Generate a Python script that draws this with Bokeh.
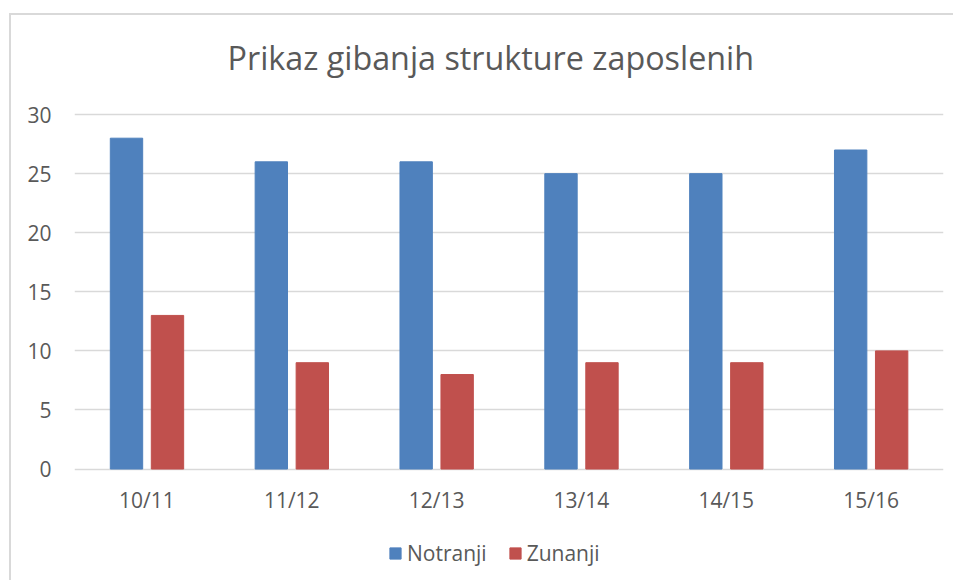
from bokeh.plotting import figure
from bokeh.models import FactorRange, FixedTicker, Legend, LegendItem, ColumnDataSource
from bokeh.core.properties import value
from bokeh.transform import dodge
from bokeh.embed import file_html
from bokeh.resources import INLINE

categories = ["10/11", "11/12", "12/13", "13/14", "14/15", "15/16"]
notranji = [28, 26, 26, 25, 25, 27]
zunanji = [13, 9, 8, 9, 9, 10]
y_ticks = [0, 5, 10, 15, 20, 25, 30]
title_text = "Prikaz gibanja strukture zaposlenih"

FONT = "Open Sans"
TXT = "#595959"
GRID = "#D9D9D9"

src = ColumnDataSource(dict(cat=categories, n=notranji, z=zunanji,
                            base=[0] * len(categories)))

# Frame runs from 15px above the 30 gridline down to the legend row; 0..30 spans 353px.
PX_PER_UNIT = 353 / 30
PAD_TOP_PX = 15
PAD_BOTTOM_PX = 108
y_max = 30 + PAD_TOP_PX / PX_PER_UNIT
y_min = 0 - PAD_BOTTOM_PX / PX_PER_UNIT

p = figure(
    x_range=FactorRange(*categories, range_padding=0),
    y_range=(y_min, y_max),
    width=942, height=565,
    output_backend="svg", toolbar_location=None,
    min_border_left=63, min_border_right=12,
    min_border_top=84, min_border_bottom=5,
)
p.margin = (13, 0, 0, 9)
p.styles = {"border-top": "2px solid #D9D9D9", "border-left": "2px solid #D9D9D9",
            "box-sizing": "content-box"}

p.title.text = title_text
p.title.align = "left"
p.title.vertical_align = "top"
p.title.offset = 153
p.title.standoff = 37
p.title.text_font = FONT
p.title.text_font_size = "32.3px"
p.title.text_font_style = "normal"
p.title.text_color = TXT

r1 = p.vbar(x=dodge("cat", -0.141, range=p.x_range), top="n", bottom="base", width=0.2235,
            source=src, fill_color="#4F81BD", line_color="#4F81BD")
r2 = p.vbar(x=dodge("cat", 0.142, range=p.x_range), top="z", bottom="base", width=0.2235,
            source=src, fill_color="#C0504D", line_color="#C0504D")

# category labels under the 0 line
p.text(x="cat", y="base", text="cat", source=src, y_offset=31,
       text_align="center", text_baseline="middle",
       text_font=value(FONT), text_font_size="21px", text_color=TXT)

p.outline_line_color = None
p.xgrid.grid_line_color = None
p.ygrid.grid_line_color = GRID
p.ygrid.grid_line_width = 1.5
p.yaxis.ticker = FixedTicker(ticks=y_ticks)
p.xaxis.visible = False

p.yaxis.axis_line_color = None
p.yaxis.major_tick_line_color = None
p.yaxis.minor_tick_line_color = None
p.yaxis.major_label_standoff = 17
p.yaxis.major_label_text_font = FONT
p.yaxis.major_label_text_font_size = "21px"
p.yaxis.major_label_text_color = TXT

legend = Legend(
    items=[LegendItem(label="Notranji", renderers=[r1]),
           LegendItem(label="Zunanji", renderers=[r2])],
    orientation="horizontal",
    location=(314, 10),
    padding=0, margin=0, spacing=21,
    glyph_width=14, glyph_height=14, label_standoff=5,
    label_text_font=FONT, label_text_font_size="21px", label_text_color=TXT,
    label_height=20,
    border_line_color=None, background_fill_alpha=0,
)
p.add_layout(legend, "center")

open("out.html", "w").write(file_html(p, INLINE))
